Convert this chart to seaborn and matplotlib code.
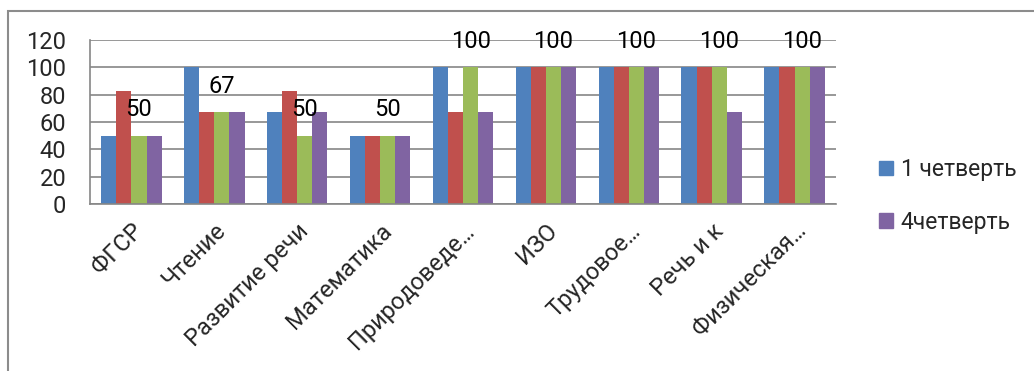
import numpy as np
import pandas as pd
import matplotlib
matplotlib.use("Agg")
import matplotlib.pyplot as plt
from matplotlib.patches import Rectangle, Patch
import seaborn as sns

subjects = ["ФГСР", "Чтение", "Развитие речи", "Математика", "Природоведе…",
            "ИЗО", "Трудовое…", "Речь и к", "Физическая…"]
series_names = ["1 четверть", "2 четверть", "3 четверть", "4четверть"]
q1 = [50, 100, 67, 50, 100, 100, 100, 100, 100]
q2 = [83, 67, 83, 50, 67, 100, 100, 100, 100]
q3 = [50, 67, 50, 50, 100, 100, 100, 100, 100]
q4 = [50, 67, 67, 50, 67, 100, 100, 67, 100]
colors = ["#4F81BD", "#C0504D", "#9BBB59", "#8064A2"]

df = pd.DataFrame({"subject": subjects * 4,
                   "series": np.repeat(series_names, len(subjects)),
                   "value": q1 + q2 + q3 + q4})

sns.set_style("white")
plt.rcParams["font.family"] = ["Roboto", "DejaVu Sans"]

W, H = 1034, 371
fig = plt.figure(figsize=(W / 100, H / 100), dpi=100)
ax = fig.add_axes([90 / W, 1 - 204 / H, 746 / W, 164 / H])

sns.barplot(data=df, x="subject", y="value", hue="series", order=subjects,
            hue_order=series_names, palette=colors, width=0.73, saturation=1,
            legend=False, ax=ax)
for c in ax.containers:
    for p in c:
        p.set_edgecolor("none")

# data labels of the third series, floated above the bars
green = ax.containers[2]
for p, v in zip(green, q3):
    ax.text(p.get_x() + p.get_width() / 2, v + 19, str(v), ha="center",
            va="center", fontsize=17, color="black")

ax.set_ylim(0, 120)
ax.set_xlim(-0.5, len(subjects) - 0.5)
ax.set_yticks(range(0, 121, 20))
ax.yaxis.grid(True, color="#868686", linewidth=1.2)
ax.set_axisbelow(True)
ax.set_xlabel("")
ax.set_ylabel("")
for s in ["top", "right"]:
    ax.spines[s].set_visible(False)
for s in ["left", "bottom"]:
    ax.spines[s].set_color("#868686")
    ax.spines[s].set_linewidth(1.2)
ax.tick_params(axis="y", length=5, color="#868686", width=1.2, labelsize=17, pad=12)
ax.set_xticks(np.arange(-0.5, len(subjects)), minor=True)
ax.tick_params(axis="x", which="minor", length=5, color="#868686", width=1.2)
ax.tick_params(axis="x", which="major", length=0, labelsize=17, pad=11)
plt.setp(ax.get_xticklabels(), rotation=45, ha="right", rotation_mode="anchor")

handles = [Patch(color=colors[0]), Patch(color=colors[3])]
fig.legend(handles, [series_names[0], series_names[3]], loc="upper left",
           bbox_to_anchor=(879 / W, 1 - 158 / H), frameon=False, fontsize=16.5,
           borderpad=0, borderaxespad=0,
           handlelength=0.6, handleheight=0.6, handletextpad=0.35, labelspacing=1.3)

fig.patches.append(Rectangle((7.5 / W, -0.5), 1.2, 1.5 - 10.5 / H, transform=fig.transFigure,
                             fill=False, edgecolor="#8c8c8c", linewidth=1.5))

fig.savefig("out.png", dpi=100)
